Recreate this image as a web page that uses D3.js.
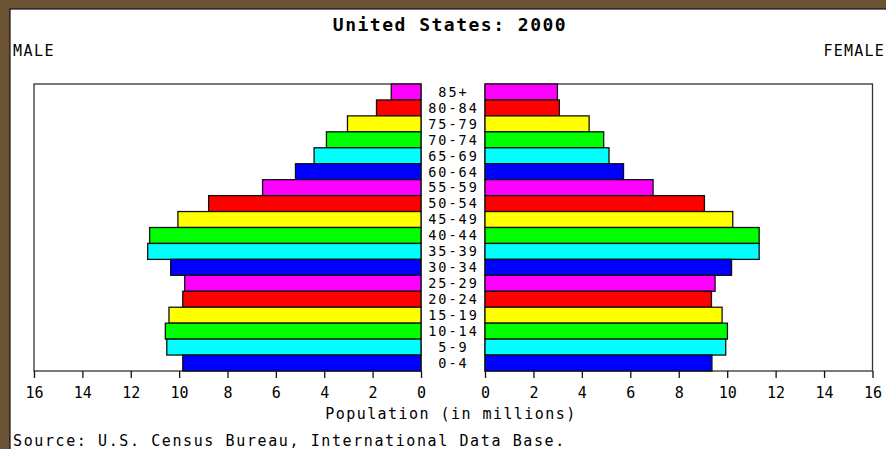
<!DOCTYPE html>
<html>
<head>
<meta charset="utf-8">
<script src="https://cdn.jsdelivr.net/npm/d3@7"></script>
<style>
  body { margin: 0; background: #fff; }
  svg text { font-family: "DejaVu Sans Mono", "Liberation Mono", monospace; fill: #000; }
</style>
</head>
<body>
<div id="chart"></div>
<script>
// age groups, top to bottom
const ages = ["85+", "80-84", "75-79", "70-74", "65-69", "60-64", "55-59", "50-54", "45-49",
              "40-44", "35-39", "30-34", "25-29", "20-24", "15-19", "10-14", "5-9", "0-4"];
// population in millions
const male = [1.23, 1.84, 3.04, 3.91, 4.42, 5.19, 6.55, 8.78, 10.05,
              11.22, 11.30, 10.35, 9.77, 9.85, 10.42, 10.57, 10.51, 9.85];
const female = [2.99, 3.07, 4.30, 4.90, 5.12, 5.72, 6.94, 9.06, 10.23,
                11.32, 11.32, 10.18, 9.50, 9.35, 9.79, 10.01, 9.94, 9.37];
const ticks = [0, 2, 4, 6, 8, 10, 12, 14, 16];
// colours cycle from the bottom row up
const palette = ["#0000ff", "#00ffff", "#00ff00", "#ffff00", "#ff0000", "#ff00ff"];

const width = 886, height = 449;

const svg = d3.select("#chart").append("svg")
  .attr("width", width)
  .attr("height", height);

// brown frame round the applet
svg.append("rect").attr("width", width).attr("height", height).attr("fill", "#6b5233");
svg.append("rect").attr("x", 10).attr("y", 9).attr("width", width).attr("height", height)
  .attr("fill", "#fff").attr("stroke", "#111").attr("stroke-width", 1.2);

const plotTop = 84, plotBottom = 371;
const y = d3.scaleBand().domain(ages).range([plotTop, plotBottom]).padding(0);
const xL = d3.scaleLinear().domain([0, 16]).range([421, 34]);
const xR = d3.scaleLinear().domain([0, 16]).range([485, 872.5]);

const colorOf = (i) => palette[(ages.length - 1 - i) % palette.length];

// panel frames
[[xL(16), xL(0)], [xR(0), xR(16)]].forEach(([a, b]) => {
  svg.append("rect")
    .attr("x", a).attr("y", plotTop)
    .attr("width", b - a).attr("height", plotBottom - plotTop)
    .attr("fill", "none").attr("stroke", "#333").attr("stroke-width", 1.3);
});

svg.selectAll(".male")
  .data(male)
  .enter().append("rect")
  .attr("class", "male")
  .attr("x", (d) => xL(d))
  .attr("y", (d, i) => y(ages[i]))
  .attr("width", (d) => xL(0) - xL(d))
  .attr("height", y.bandwidth())
  .attr("fill", (d, i) => colorOf(i))
  .attr("stroke", "#111")
  .attr("stroke-width", 1.3);

svg.selectAll(".female")
  .data(female)
  .enter().append("rect")
  .attr("class", "female")
  .attr("x", xR(0))
  .attr("y", (d, i) => y(ages[i]))
  .attr("width", (d) => xR(d) - xR(0))
  .attr("height", y.bandwidth())
  .attr("fill", (d, i) => colorOf(i))
  .attr("stroke", "#111")
  .attr("stroke-width", 1.3);

// age labels in the gap
svg.selectAll(".age")
  .data(ages)
  .enter().append("text")
  .attr("class", "age")
  .attr("x", 453.5)
  .attr("y", (d) => y(d) + y.bandwidth() / 2)
  .attr("dy", "0.36em")
  .attr("text-anchor", "middle")
  .style("font-size", "13.5px")
  .style("letter-spacing", "2px")
  .text((d) => d);

const styleAxis = (g) => {
  g.select(".domain").remove();
  g.selectAll("line").attr("stroke", "#111").attr("stroke-width", 1.3);
  g.selectAll("text")
    .style("font-family", "'DejaVu Sans Mono', monospace")
    .style("font-size", "15px")
    .attr("fill", "#000");
};

svg.append("g")
  .attr("transform", `translate(0,${plotBottom})`)
  .call(d3.axisBottom(xL).tickValues(ticks).tickFormat(d3.format("d")).tickSize(7).tickPadding(9).tickSizeOuter(0))
  .call(styleAxis);

svg.append("g")
  .attr("transform", `translate(0,${plotBottom})`)
  .call(d3.axisBottom(xR).tickValues(ticks).tickFormat(d3.format("d")).tickSize(7).tickPadding(9).tickSizeOuter(0))
  .call(styleAxis);

svg.append("text")
  .attr("x", 450).attr("y", 31)
  .attr("text-anchor", "middle")
  .style("font-size", "18px")
  .style("font-weight", "bold")
  .style("letter-spacing", "1.5px")
  .text("United States: 2000");

svg.append("text")
  .attr("x", 13).attr("y", 56)
  .style("font-size", "15px")
  .style("letter-spacing", "1.5px")
  .text("MALE");

svg.append("text")
  .attr("x", 885).attr("y", 56)
  .attr("text-anchor", "end")
  .style("font-size", "15px")
  .style("letter-spacing", "1.2px")
  .text("FEMALE");

svg.append("text")
  .attr("x", 451).attr("y", 419)
  .attr("text-anchor", "middle")
  .style("font-size", "15px")
  .style("letter-spacing", "1.45px")
  .text("Population (in millions)");

svg.append("text")
  .attr("x", 13).attr("y", 446)
  .style("font-size", "15px")
  .style("letter-spacing", "1.6px")
  .text("Source: U.S. Census Bureau, International Data Base.");
</script>
</body>
</html>
